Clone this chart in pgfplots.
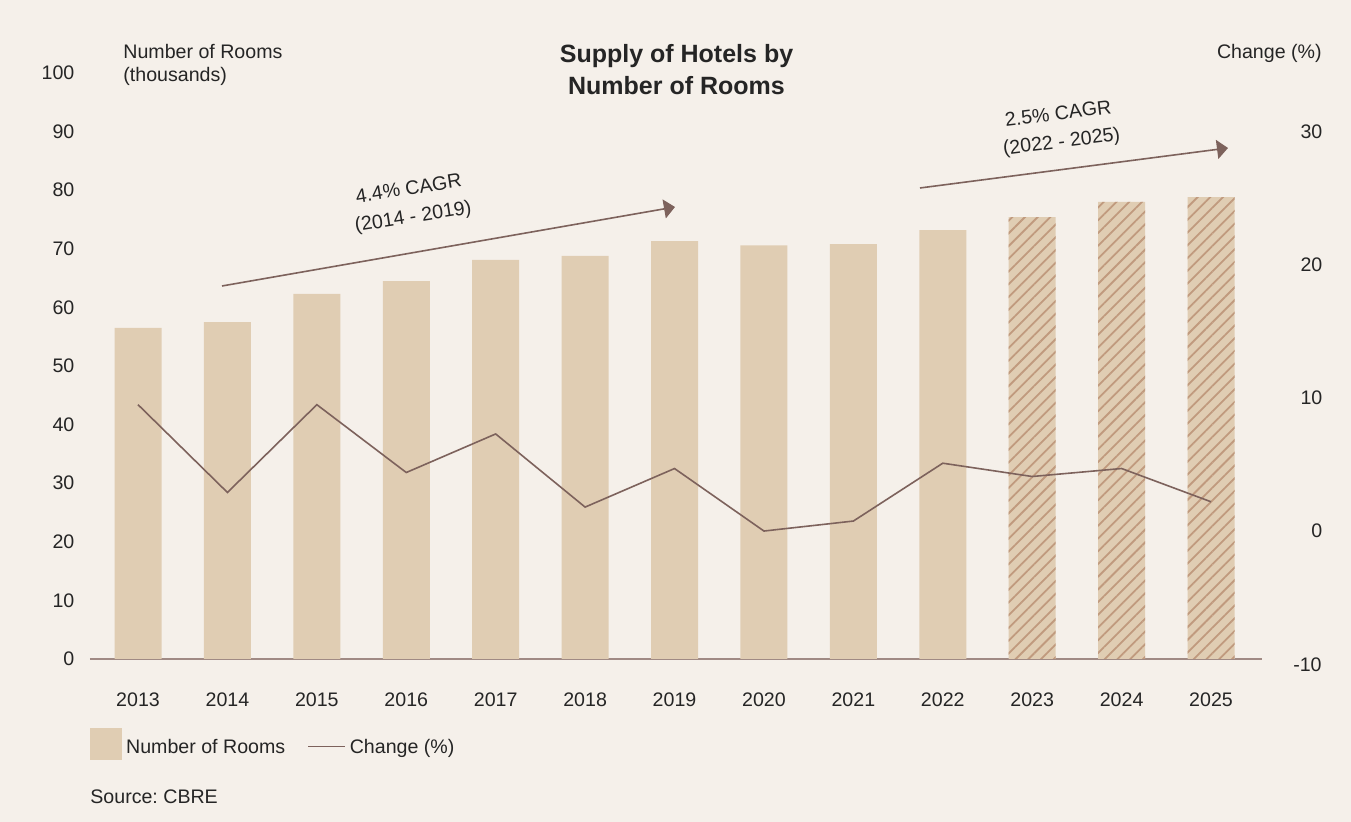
\documentclass[border=0pt]{standalone}
\usepackage{fontspec}
\setmainfont{Liberation Sans}
\usepackage{pgfplots}
\usepackage{pgfplotstable}
\pgfplotsset{compat=1.18}
\usetikzlibrary{patterns.meta,arrows.meta}
\definecolor{bgc}{HTML}{F5F0EA}
\definecolor{barc}{HTML}{E0CDB3}
\definecolor{hatchc}{HTML}{C09A7E}
\definecolor{lc}{HTML}{7D625C}
\definecolor{axc}{HTML}{A08A84}
\definecolor{txt}{HTML}{252525}
\pgfplotstableread{
x y
0 56.5
1 57.5
2 62.3
3 64.5
4 68.1
5 68.8
6 71.3
7 70.6
8 70.8
9 73.2
}\barsA
\pgfplotstableread{
x y
10 75.4
11 78.0
12 78.8
}\barsB
\pgfplotstableread{
x y
0 9.5
1 2.9
2 9.5
3 4.4
4 7.3
5 1.8
6 4.7
7 0.0
8 0.75
9 5.1
10 4.1
11 4.7
12 2.2
}\change
\begin{document}
\frenchspacing
\begin{tikzpicture}[font=\fontsize{9.8}{11.5}\selectfont, text=txt]
\fill[bgc] (-45pt,-81.5pt) rectangle (630.5pt,329.5pt);
\begin{axis}[at={(0,0)},anchor=south west,scale only axis,width=586pt,height=293pt,
 xmin=-0.537,xmax=12.57,ymin=0,ymax=100,
 axis x line*=bottom, axis y line*=left,
 y axis line style={draw=none},
 x axis line style={axc, line width=0.9pt, -},
 major tick length=0pt,
 xtick={0,...,12},
 xticklabels={2013,2014,2015,2016,2017,2018,2019,2020,2021,2022,2023,2024,2025},
 ytick={0,10,...,100},
 xticklabel style={yshift=-13.2pt},
 yticklabel style={xshift=-4.3pt},
 /pgf/number format/assume math mode=true,
 /pgf/number format/1000 sep={},
 ticklabel style={font=\fontsize{9.8}{11.5}\selectfont, text=txt},
 ybar, bar width=23.5pt, bar shift=0pt,
]
\addplot[fill=barc, draw=none] table[x=x,y=y]{\barsA};
\addplot[fill=barc, draw=none, postaction={pattern={Lines[angle=45,distance=4.5pt,line width=0.9pt]}, pattern color=hatchc}] table[x=x,y=y]{\barsB};
\end{axis}
\begin{axis}[at={(0,0)},anchor=south west,scale only axis,width=586pt,height=293pt,
 xmin=-0.537,xmax=12.57,ymin=-9.62,ymax=34.44,
 axis x line=none, axis y line*=right, y axis line style={draw=none},
 major tick length=0pt, ytick={0,10,20,30},
 yticklabel style={anchor=east, xshift=33.7pt},
 /pgf/number format/assume math mode=true,
 ticklabel style={font=\fontsize{9.8}{11.5}\selectfont, text=txt},
 legend style={at={(0,-0.1459)}, anchor=west, draw=none, fill=none, legend columns=2, inner sep=0pt,
   font=\fontsize{9.8}{11.5}\selectfont, text=txt,
   /tikz/every odd column/.append style={column sep=0pt},
   /tikz/every even column/.append style={column sep=9pt}},
 legend cell align=left,
]
\addlegendimage{legend image code/.code={\fill[barc] (0pt,-5.75pt) rectangle (15.5pt,9.75pt);}}
\addlegendentry{Number of Rooms}
\addplot[lc, line width=0.8pt, mark=none, legend image code/.code={\draw[lc, line width=0.8pt] (0pt,0.75pt) -- (18.5pt,0.75pt);}] table[x=x,y=y]{\change};
\addlegendentry{Change (\%)}
\end{axis}
\begin{scope}[shift={(-45pt,329.5pt)}, x=0.5pt, y=-0.5pt]
\node[anchor=base, inner sep=0, font=\fontsize{12.5}{16}\selectfont\bfseries] at (676.5,63) {Supply of Hotels by};
\node[anchor=base, inner sep=0, font=\fontsize{12.5}{16}\selectfont\bfseries] at (676.5,95) {Number of Rooms};
\node[anchor=base west, inner sep=0] at (123,59) {Number of Rooms};
\node[anchor=base west, inner sep=0] at (123,82) {(thousands)};
\node[anchor=base east, inner sep=0] at (1322,59) {Change (\%)};
\node[anchor=east, inner sep=0] at (1322,665) {-10};
\node[anchor=base west, inner sep=0] at (90,804) {Source: CBRE};
\draw[lc, line width=0.8pt, -{Triangle[length=5.5pt,width=9.5pt]}] (222,286) -- (675,207);
\draw[lc, line width=0.8pt, -{Triangle[length=5.5pt,width=9.5pt]}] (920,188) -- (1228,148);
\node[rotate=9, align=center, font=\fontsize{9.8}{14}\selectfont] at (411,204) {4.4\% CAGR\\(2014 - 2019)};
\node[rotate=7, align=center, font=\fontsize{9.8}{14}\selectfont] at (1060,129) {2.5\% CAGR\\(2022 - 2025)};
\end{scope}
\end{tikzpicture}
\end{document}
